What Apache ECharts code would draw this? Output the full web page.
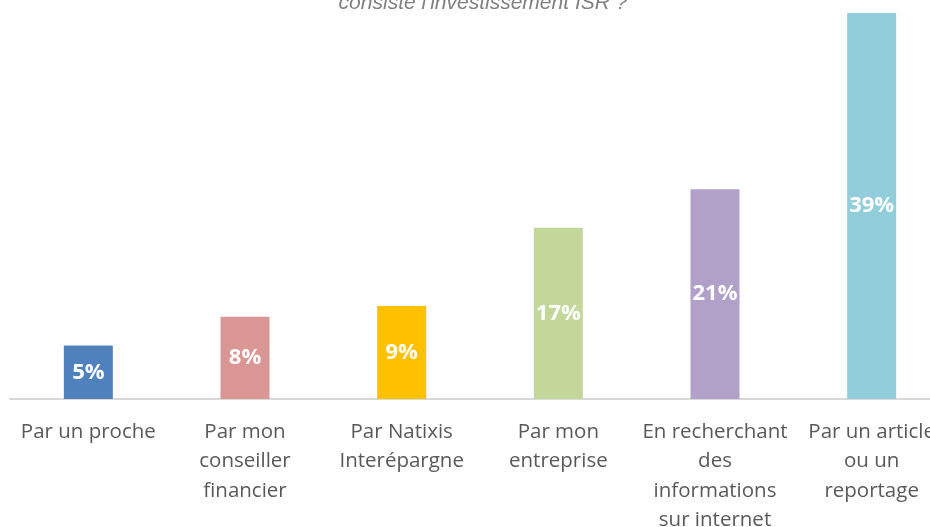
<!DOCTYPE html>
<html>
<head>
<meta charset="utf-8">
<script src="https://cdn.jsdelivr.net/npm/echarts@6/dist/echarts.min.js"></script>
<style>
  html, body { margin: 0; padding: 0; background: #fff; }
  #main { width: 930px; height: 527px; }
</style>
</head>
<body>
<div id="main"></div>
<script>
var categories = [
    'Par un proche',
    'Par mon\nconseiller\nfinancier',
    'Par Natixis\nInterépargne',
    'Par mon\nentreprise',
    'En recherchant\ndes\ninformations\nsur internet',
    'Par un article\nou un\nreportage'
];
// values, labels show them rounded
var values = [5.4, 8.3, 9.4, 17.3, 21.2, 39];
var colors = ['#4f81bd', '#d99694', '#ffc000', '#c4d79b', '#b1a0c7', '#92cddc'];
var titleText = 'consiste l\'investissement ISR ?';

var myChart = echarts.init(document.getElementById('main'));

var option = {
    backgroundColor: '#fff',
    animation: false,
    title: {
        text: titleText,
        left: 478,
        textAlign: 'center',
        top: -12,
        textStyle: {
            color: '#808080',
            fontStyle: 'italic',
            fontWeight: 'normal',
            fontFamily: 'Liberation Sans',
            fontSize: 21
        }
    },
    grid: {
        left: 10,
        right: -20,
        top: 13,
        bottom: 128,
        containLabel: false,
        outerBoundsMode: 'none'
    },
    xAxis: {
        type: 'category',
        data: categories,
        axisLine: { lineStyle: { color: '#d9d9d9', width: 2 } },
        axisTick: { show: false },
        axisLabel: {
            interval: 0,
            margin: 18,
            color: '#595959',
            fontFamily: 'Open Sans',
            fontSize: 20.5,
            lineHeight: 29.5
        }
    },
    yAxis: {
        type: 'value',
        min: 0,
        max: 39,
        show: false,
        splitLine: { show: false }
    },
    series: [{
        type: 'bar',
        barWidth: 49,
        data: values.map(function (v, i) {
            return { value: v, itemStyle: { color: colors[i] } };
        }),
        label: {
            show: true,
            position: 'inside',
            color: '#fff',
            fontFamily: 'Open Sans',
            fontWeight: 'bold',
            fontSize: 22,
            formatter: function (p) { return Math.round(p.value) + '%'; }
        }
    }]
};

myChart.setOption(option);
</script>
</body>
</html>
